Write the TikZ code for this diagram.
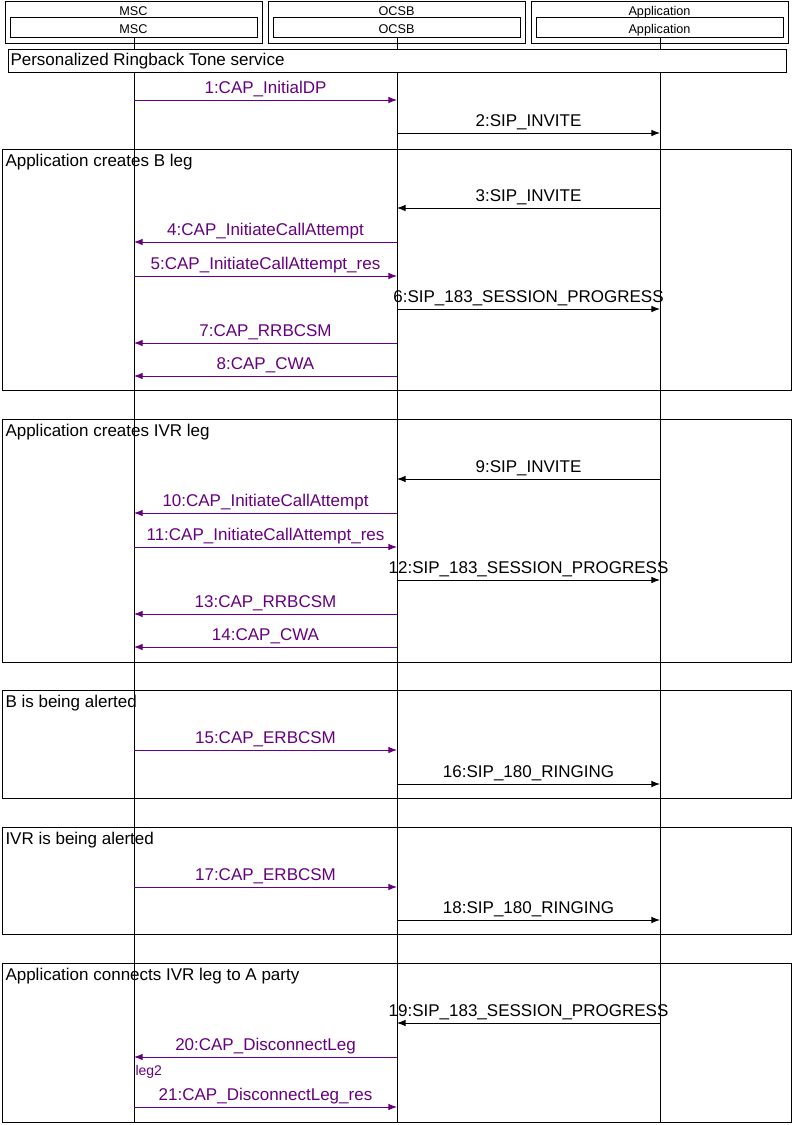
\documentclass[tikz,border=0pt]{standalone}
\usepackage{fontspec}
\setmainfont{Liberation Sans}
\usetikzlibrary{arrows.meta,positioning,calc}
\definecolor{capcol}{RGB}{102,0,128}
\colorlet{sipcol}{black}

\begin{document}
\begin{tikzpicture}[x=0.75pt,y=-0.75pt,line width=0.75pt,
    font=\fontsize{12.75}{15}\selectfont,
    msg/.style={-{Latex[length=6.5pt,width=5pt]}},
    msglabel/.style={midway,anchor=base,yshift=5.25pt,inner sep=0pt},
    headtext/.style={font=\fontsize{9.5}{11}\selectfont,inner sep=0pt},
    framelabel/.style={anchor=base west,inner sep=0pt}]
  \useasboundingbox (0,0) rectangle (796,1125);
  \coordinate (bottom) at (0,1122);
  % heads of the lifelines
  \foreach \n/\x/\t in {msc/134/MSC, ocsb/397/OCSB, app/660/Application} {
    \draw (\x-129,1) rectangle (\x+128,43);
    \node[headtext,anchor=base] (\n-top) at (\x-0.5,15.5) {\t};
    \node[headtext,draw,minimum width=185.25pt,minimum height=15pt,
      text height=8.25pt,text depth=0pt] (\n) at (\x-0.5,27.5) {\t};
  }
  % lifelines
  \foreach \n in {msc,ocsb,app}
    \draw ([xshift=0.375pt]\n.south) -- ([xshift=0.375pt]\n.south |- bottom);
  % service banner
  \draw[fill=white] (8,49) rectangle (786,72);
  \node[framelabel] (service) at (10,65) {Personalized Ringback Tone service};
  % frames
  \foreach \n/\t/\b/\l in {bleg/149/390/{Application creates B leg},
      ivrleg/419/662/{Application creates IVR leg},
      balert/690/798/{B is being alerted},
      ivralert/827/934/{IVR is being alerted},
      connect/963/1122/{Application connects IVR leg to A party}} {
    \draw (2,\t) rectangle (791,\b);
    \node[framelabel] (\n) at (5,\t+17.5) {\l};
  }
  % messages
  \foreach \y/\a/\b/\col/\l in {
      100/msc/ocsb/capcol/{1:CAP\_InitialDP},
      133/ocsb/app/sipcol/{2:SIP\_INVITE},
      208/app/ocsb/sipcol/{3:SIP\_INVITE},
      242/ocsb/msc/capcol/{4:CAP\_InitiateCallAttempt},
      276/msc/ocsb/capcol/{5:CAP\_InitiateCallAttempt\_res},
      309/ocsb/app/sipcol/{6:SIP\_183\_SESSION\_PROGRESS},
      343/ocsb/msc/capcol/{7:CAP\_RRBCSM},
      376/ocsb/msc/capcol/{8:CAP\_CWA},
      479/app/ocsb/sipcol/{9:SIP\_INVITE},
      513/ocsb/msc/capcol/{10:CAP\_InitiateCallAttempt},
      547/msc/ocsb/capcol/{11:CAP\_InitiateCallAttempt\_res},
      580/ocsb/app/sipcol/{12:SIP\_183\_SESSION\_PROGRESS},
      614/ocsb/msc/capcol/{13:CAP\_RRBCSM},
      647/ocsb/msc/capcol/{14:CAP\_CWA},
      750/msc/ocsb/capcol/{15:CAP\_ERBCSM},
      784/ocsb/app/sipcol/{16:SIP\_180\_RINGING},
      887/msc/ocsb/capcol/{17:CAP\_ERBCSM},
      920/ocsb/app/sipcol/{18:SIP\_180\_RINGING},
      1023/app/ocsb/sipcol/{19:SIP\_183\_SESSION\_PROGRESS},
      1057/ocsb/msc/capcol/{20:CAP\_DisconnectLeg},
      1107/msc/ocsb/capcol/{21:CAP\_DisconnectLeg\_res}}
    \draw[msg,\col] ([xshift=0.375pt]\a |- 0,\y) -- ([xshift=0.375pt]\b |- 0,\y) node[msglabel] {\l};
  \node[anchor=base west,inner sep=0pt,text=capcol,font=\fontsize{10.5}{12}\selectfont]
    (leg2) at (135,1075) {leg2};
\end{tikzpicture}
\end{document}
